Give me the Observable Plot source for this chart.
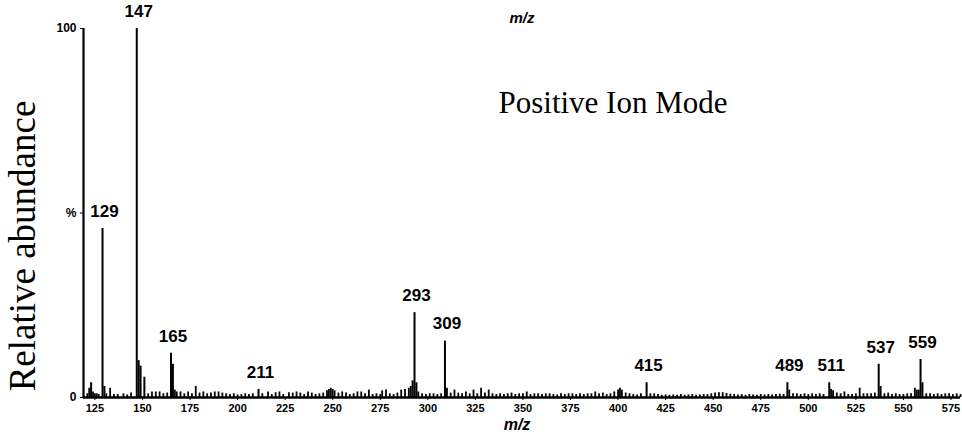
<!DOCTYPE html>
<html>
<head>
<meta charset="utf-8">
<script src="https://cdn.jsdelivr.net/npm/d3@7"></script>
<script src="https://cdn.jsdelivr.net/npm/@observablehq/plot@0.6"></script>
<style>
  html, body { margin: 0; padding: 0; background: #fff; }
  #chart { width: 962px; height: 438px; }
</style>
</head>
<body>
<div id="chart"></div>
<script>
// Major peaks (m/z, relative abundance %)
const peakMz = [123, 129, 130, 147, 148, 149, 151, 165, 166, 211, 292, 293, 294, 309, 310, 415, 489, 511, 537, 538, 558, 559, 560];
const peakAb = [4, 45.8, 3, 100, 10, 8.5, 5.5, 12, 9, 2.2, 4.5, 23, 4, 15.3, 2.5, 4, 4, 4, 9, 3, 2, 10.3, 4];

// Labelled peaks
const labelMz = [129, 147, 165, 211, 293, 309, 415, 489, 511, 537, 559];
const labelText = ["129", "147", "165", "211", "293", "309", "415", "489", "511", "537", "559"];

// Small background peaks (noise floor)
const noiseMz = [121,122,124,125,126,127,131,133,135,137,140,142,144,153,155,157,159,161,163,167,168,170,172,174,176,178,180,182,184,186,188,190,192,194,196,198,200,202,204,206,208,213,216,218,220,222,224,227,229,231,233,235,237,239,241,243,245,247,248,249,250,251,253,255,257,259,261,263,265,267,269,271,273,275,276,278,280,282,284,286,288,290,291,295,297,299,301,303,305,307,312,314,316,318,320,322,324,326,328,330,332,334,336,338,340,342,344,346,348,350,352,354,356,358,360,362,364,366,368,370,372,374,376,378,380,382,384,386,388,390,392,394,396,398,400,401,402,404,406,408,410,412,417,419,421,423,425,427,429,431,433,435,437,439,441,443,445,447,449,451,453,455,457,459,461,463,465,467,469,471,473,475,477,479,481,483,485,487,490,492,494,496,498,500,502,504,506,508,512,513,515,517,519,521,523,525,527,529,531,533,535,540,542,544,546,548,550,552,554,556,557,562,564,566,568,570,572,574,576,578,580];
const noiseAb = [1,2.5,1.5,1,1,0.8,1,2.5,0.8,0.8,1,0.7,1.2,1,1.5,1.5,1.5,1,1.2,2,1.5,1.5,1,1.5,1,3,1.2,1.5,1,1.2,1.5,1.5,1.2,1,0.8,1,0.7,0.8,1,0.8,1,1,1.5,0.8,1.3,1.5,0.8,1.3,1.2,1.5,1.2,0.8,1.5,1.2,0.8,1,1.2,1.8,2.2,2.5,2.2,1.8,1.2,1.5,1.2,0.8,1,1.5,1.5,1,2,0.8,1,0.8,1.8,2,1,0.8,1.2,2,2.2,2.5,3,1.5,1,0.8,1,1,0.8,1,1.2,2,1.2,1,1.5,1,2,1,2.5,1.2,2,1,0.8,1,0.8,1,1.2,0.8,1,1,1.5,0.8,1,1,0.8,1,1,0.8,0.7,1,0.8,1,1,0.8,1,0.8,1,1,1.5,1,1.2,0.8,1,1.5,2,2.5,2,1.2,1,0.8,0.7,1,1,1,0.8,0.6,0.7,0.6,0.7,0.6,0.8,0.6,0.7,0.8,0.6,0.7,0.8,0.8,1,1.2,1.3,1.3,1.1,0.9,0.8,0.7,0.8,0.6,0.8,0.7,0.6,0.8,0.7,0.8,0.7,0.8,0.9,0.8,2,1,1,0.8,1,0.8,1,0.8,1,0.8,2.2,1.8,1.2,1,1.5,0.8,0.8,1,2.5,1,1,1,1.2,1,1.2,0.8,1,0.8,0.8,1,1,2.5,2,1,1,0.8,1,0.8,1,1,0.8,1,0.8];

// Axis ticks
const xTicks = [125,150,175,200,225,250,275,300,325,350,375,400,425,450,475,500,525,550,575];
const yTicks = [0, 50, 100];
const yTickLabels = ["0", "%", "100"];

const peaks = peakMz.map((mz, i) => ({mz, ab: peakAb[i]}));
const noise = noiseMz.map((mz, i) => ({mz, ab: noiseAb[i]}));
const labels = labelMz.map((mz, i) => ({mz, ab: peakAb[peakMz.indexOf(mz)], text: labelText[i]}));

const plot = Plot.plot({
  width: 962,
  height: 438,
  marginLeft: 83,
  marginRight: 2,
  marginTop: 28,
  marginBottom: 41,
  style: {fontFamily: "'Liberation Sans', Arial, sans-serif", background: "#fff", color: "#000"},
  x: {domain: [119, 580]},
  y: {domain: [0, 100]},
  marks: [
    Plot.axisX({ticks: xTicks, tickSize: 3, tickPadding: 4, label: null,
      fontSize: 11, fontWeight: "bold", stroke: "#000"}),
    Plot.axisY({ticks: yTicks, tickFormat: d => yTickLabels[yTicks.indexOf(d)], tickSize: 3, tickPadding: 4,
      label: null, fontSize: 12, fontWeight: "bold"}),
    Plot.ruleX([119], {y1: 0, y2: 100, stroke: "#000", strokeWidth: 2.2}),
    Plot.ruleY([0], {stroke: "#000", strokeWidth: 2.5}),
    Plot.ruleX(noise, {x: "mz", y1: 0, y2: "ab", stroke: "#000", strokeWidth: 1.8}),
    Plot.ruleX(peaks, {x: "mz", y1: 0, y2: "ab", stroke: "#000", strokeWidth: 2}),
    Plot.text(labels, {x: "mz", y: "ab", text: "text", dy: -17, dx: 2, fontSize: 17, fontWeight: "bold", fill: "#000"}),
    Plot.text(["m/z"], {frameAnchor: "top", dy: -16, fontSize: 15, fontWeight: "bold", fontStyle: "italic", fill: "#000"}),
    Plot.text(["m/z"], {frameAnchor: "bottom", dy: 32, dx: -5, fontSize: 16, fontWeight: "bold", fontStyle: "italic", fill: "#000"}),
    Plot.text(["Positive Ion Mode"], {frameAnchor: "top", dx: 91, dy: 62, fontSize: 31, fontFamily: "'Liberation Serif', 'Times New Roman', serif", fill: "#000"}),
    Plot.text(["Relative abundance"], {frameAnchor: "left", textAnchor: "middle", dx: -60, dy: 33, rotate: -90, fontSize: 37, fontFamily: "'Liberation Serif', 'Times New Roman', serif", fill: "#000"})
  ]
});
document.getElementById("chart").appendChild(plot);
</script>
</body>
</html>
